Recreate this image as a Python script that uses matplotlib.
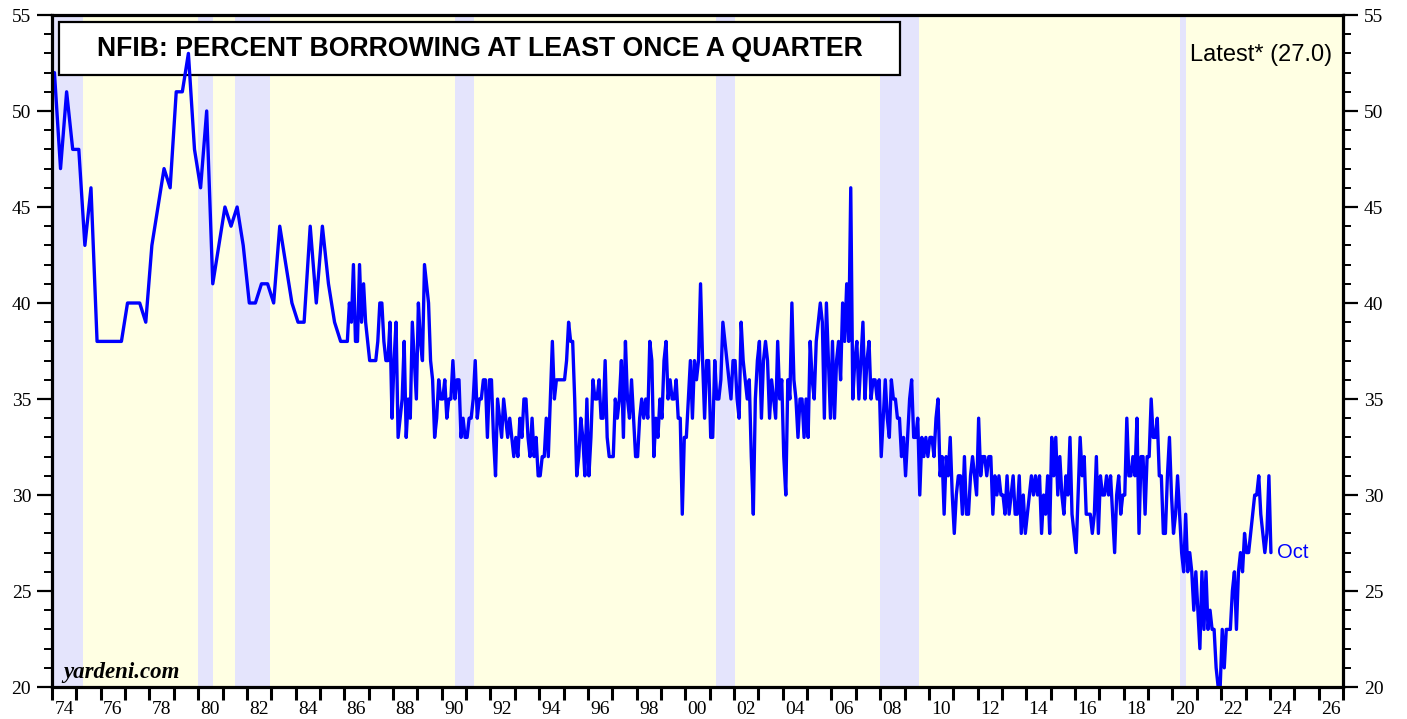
import numpy as np
import matplotlib.pyplot as plt
from matplotlib.patches import Rectangle
from matplotlib.ticker import FixedLocator, MultipleLocator, NullFormatter

# Quarterly survey readings (1974 - 1985), percent borrowing at least once a quarter
quarterly_start = 1973.85
quarterly_values = [
    50, 52, 47, 51, 48, 48, 43, 46, 38, 38, 38, 38,
    38, 40, 40, 40, 39, 43, 45, 47, 46, 51, 51, 53,
    48, 46, 50, 41, 43, 45, 44, 45, 43, 40, 40, 41,
    41, 40, 44, 42, 40, 39, 39, 44, 40, 44, 41, 39,
    38,
]

# Monthly survey readings (1986 - Oct 2023)
monthly_start = 1986.125
monthly_values = [
    38, 40, 39, 42, 38, 38, 42, 39, 41, 39, 38, 37,
    37, 37, 37, 38, 40, 40, 38, 37, 37, 39, 34, 37,
    39, 33, 34, 35, 38, 33, 35, 34, 39, 37, 35, 40,
    38, 37, 42, 41, 40, 37, 36, 33, 34, 36, 35, 35,
    36, 34, 35, 35, 37, 35, 36, 36, 33, 34, 33, 33,
    34, 34, 35, 37, 34, 35, 35, 36, 36, 33, 36, 36,
    33, 31, 35, 34, 33, 35, 34, 33, 34, 33, 32, 33,
    32, 34, 33, 35, 35, 33, 32, 34, 32, 33, 31, 31,
    32, 32, 34, 32, 35, 38, 35, 36, 36, 36, 36, 36,
    37, 39, 38, 38, 35, 31, 32, 34, 33, 31, 35, 31,
    33, 36, 35, 35, 36, 34, 34, 37, 33, 32, 32, 32,
    35, 34, 35, 37, 33, 38, 35, 34, 36, 34, 32, 32,
    34, 35, 34, 35, 34, 38, 37, 32, 34, 33, 35, 34,
    37, 38, 35, 36, 35, 35, 36, 34, 34, 29, 33, 33,
    35, 37, 34, 37, 36, 37, 41, 37, 34, 37, 37, 33,
    33, 37, 35, 35, 36, 39, 38, 37, 36, 35, 37, 37,
    35, 34, 39, 37, 36, 35, 36, 32, 29, 35, 37, 38,
    34, 37, 38, 37, 34, 36, 35, 34, 38, 35, 36, 32,
    30, 36, 35, 40, 36, 35, 33, 35, 35, 33, 35, 33,
    38, 36, 35, 38, 39, 40, 39, 34, 40, 37, 34, 38,
    34, 37, 38, 36, 40, 38, 41, 38, 46, 35, 37, 38,
    35, 37, 39, 35, 37, 38, 35, 36, 36, 35, 36, 32,
    34, 36, 34, 33, 36, 35, 35, 34, 34, 32, 33, 31,
    33, 35, 36, 33, 33, 34, 30, 33, 32, 33, 32, 33,
    33, 32, 34, 35, 31, 32, 29, 32, 31, 33, 30, 28,
    30, 31, 31, 29, 32, 29, 29, 31, 32, 31, 30, 34,
    31, 32, 32, 31, 32, 32, 29, 31, 30, 31, 30, 30,
    29, 31, 29, 30, 31, 29, 29, 31, 28, 30, 28, 29,
    30, 31, 30, 31, 30, 31, 28, 30, 29, 31, 28, 33,
    31, 33, 30, 32, 30, 29, 31, 30, 33, 29, 28, 27,
    30, 33, 31, 32, 29, 29, 29, 28, 29, 32, 28, 31,
    30, 30, 31, 30, 31, 29, 27, 30, 31, 29, 30, 30,
    34, 31, 31, 32, 31, 34, 28, 32, 32, 29, 32, 32,
    35, 33, 33, 34, 31, 31, 28, 28, 31, 33, 30, 28,
    29, 31, 29, 27, 26, 29, 26, 27, 26, 24, 26, 24,
    22, 26, 23, 26, 23, 24, 23, 23, 21, 20, 20, 23,
    21, 23, 23, 23, 25, 26, 23, 26, 27, 26, 28, 27,
    27, 28, 29, 30, 30, 31, 29, 28, 27, 28, 31, 27,
]

# Recession periods (start, end) in decimal years
recessions = [
    (1973.8, 1975.27),
    (1979.99, 1980.61),
    (1981.51, 1982.95),
    (1990.54, 1991.32),
    (2001.26, 2002.04),
    (2007.99, 2009.59),
    (2020.31, 2020.55),
]

latest_label = "Oct"

# -------------------------------------------------
# Build the time axis
# -------------------------------------------------

quarterly_x = quarterly_start + 0.25 * np.arange(len(quarterly_values))
monthly_x = monthly_start + np.arange(len(monthly_values)) / 12
x = np.concatenate([quarterly_x, monthly_x])
y = np.array(quarterly_values + monthly_values, dtype=float)

W, H = 1407, 719
fig = plt.figure(figsize=(W / 100, H / 100), dpi=100)
ax = fig.add_axes([52 / W, 32 / H, 1291 / W, 672 / H])

ax.set_xlim(1974, 2027)
ax.set_ylim(20, 55)
ax.set_facecolor("#FFFFE3")

for start, end in recessions:
    ax.axvspan(start, end, color="#E4E4FC", lw=0, zorder=0)

ax.plot(x, y, color="#0000FF", lw=2.4, solid_joinstyle="round",
        solid_capstyle="round", zorder=3)

# -------------------------------------------------
# Axes, ticks and labels
# -------------------------------------------------

for side in ["left", "right", "top", "bottom"]:
    ax.spines[side].set_linewidth(2.3)
    ax.spines[side].set_color("black")
    ax.spines[side].set_zorder(4)

serif = "Liberation Serif"

ax.yaxis.set_major_locator(MultipleLocator(5))
ax.yaxis.set_minor_locator(MultipleLocator(1))
ax.tick_params(axis="y", which="major", length=11, width=1.6,
               direction="out", left=True, right=True,
               labelleft=True, labelright=True, pad=4,
               labelsize=14, labelfontfamily=serif)
ax.tick_params(axis="y", which="minor", length=6, width=1.4,
               direction="out", left=True, right=True)

years = np.arange(1974, 2028)
ax.xaxis.set_major_locator(FixedLocator(years))
ax.xaxis.set_major_formatter(NullFormatter())
label_years = np.arange(1974, 2027, 2)
ax.xaxis.set_minor_locator(FixedLocator(label_years + 0.5))
ax.set_xticklabels([f"{yr % 100:02d}" for yr in label_years], minor=True)
ax.tick_params(axis="x", which="major", length=9, width=2.2,
               direction="out")
ax.tick_params(axis="x", which="minor", length=0, pad=10,
               labelsize=14, labelfontfamily=serif)

# Title box, kept underneath the data line
ax.add_patch(Rectangle((59 / W, 1 - 75 / H), 841 / W, 53 / H,
                       transform=fig.transFigure, facecolor="white",
                       edgecolor="black", lw=1.6, zorder=2, clip_on=False))
ax.text(479.5 / W, 1 - 49 / H,
        "NFIB: PERCENT BORROWING AT LEAST ONCE A QUARTER",
        transform=fig.transFigure, ha="center", va="center",
        fontsize=19.2, fontweight="bold", family="Liberation Sans",
        zorder=2.5)

fig.text(1332 / W, 1 - 55 / H, f"Latest* ({y[-1]:.1f})", ha="right",
         va="center", fontsize=17, family="Liberation Sans")

ax.annotate(latest_label, xy=(x[-1], y[-1]), xytext=(6, 0),
            textcoords="offset pixels", ha="left", va="center",
            fontsize=14.5, color="#0000FF", family="Liberation Sans")

fig.text(63 / W, 1 - 678 / H, "yardeni.com", ha="left", va="baseline",
         fontsize=16.5, fontweight="bold", fontstyle="italic", family=serif)

fig.savefig("out.png", dpi=100)
